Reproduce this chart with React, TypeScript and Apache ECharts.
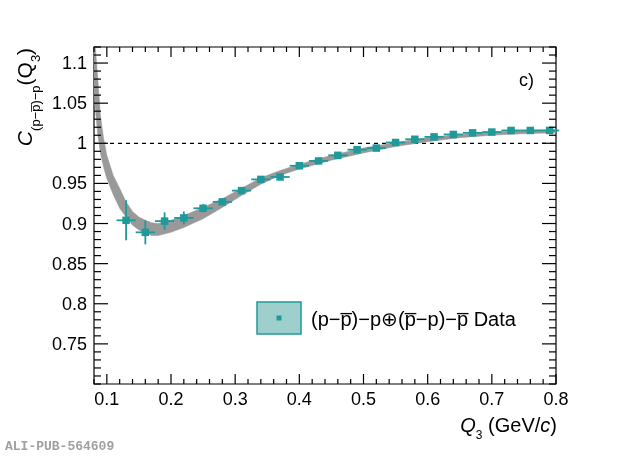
import { useEffect, useRef } from "react";
import * as echarts from "echarts";

// measured correlation function, one point per Q3 bin
const qBins = [0.13, 0.16, 0.19, 0.22, 0.25, 0.28, 0.31, 0.34, 0.37, 0.4, 0.43, 0.46, 0.49, 0.52, 0.55, 0.58, 0.61, 0.64, 0.67, 0.7, 0.73, 0.76, 0.79];
const corr = [0.904, 0.889, 0.903, 0.907, 0.919, 0.927, 0.941, 0.955, 0.958, 0.972, 0.978, 0.985, 0.992, 0.994, 1.001, 1.005, 1.008, 1.011, 1.013, 1.014, 1.016, 1.016, 1.016];
const statErr = [0.025, 0.015, 0.011, 0.008, 0.005, 0.004, 0.003, 0.003, 0.002, 0.002, 0.002, 0.002, 0.002, 0.002, 0.002, 0.002, 0.002, 0.002, 0.002, 0.002, 0.002, 0.002, 0.002];
const binHalfWidth = 0.015;

// grey band (model)
const bandQ = [0.08, 0.083, 0.086, 0.09, 0.095, 0.1, 0.11, 0.12, 0.13, 0.14, 0.15, 0.16, 0.17, 0.18, 0.2, 0.22, 0.25, 0.28, 0.31, 0.34, 0.37, 0.4, 0.45, 0.5, 0.55, 0.6, 0.65, 0.7, 0.75, 0.8];
const bandLow = [1.06, 1.035, 1.01, 0.988, 0.97, 0.956, 0.936, 0.919, 0.908, 0.898, 0.892, 0.888, 0.885, 0.885, 0.889, 0.895, 0.906, 0.92, 0.935, 0.949, 0.96, 0.968, 0.979, 0.988, 0.996, 1.002, 1.007, 1.01, 1.012, 1.013];
const bandHigh = [1.14, 1.11, 1.08, 1.035, 1.006, 0.985, 0.96, 0.944, 0.927, 0.915, 0.908, 0.904, 0.901, 0.9, 0.904, 0.91, 0.92, 0.931, 0.944, 0.957, 0.966, 0.974, 0.985, 0.994, 1.001, 1.007, 1.011, 1.014, 1.016, 1.017];

const refLine = [[0.08, 1], [0.8, 1]];

const xTicks = [0.1, 0.2, 0.3, 0.4, 0.5, 0.6, 0.7, 0.8];
const xTickLabels = ["0.1", "0.2", "0.3", "0.4", "0.5", "0.6", "0.7", "0.8"];
const yTicks = [0.75, 0.8, 0.85, 0.9, 0.95, 1, 1.05, 1.1];
const yTickLabels = ["0.75", "0.8", "0.85", "0.9", "0.95", "1", "1.05", "1.1"];

const X_MIN = 0.08;
const X_MAX = 0.8;
const Y_MIN = 0.7;
const Y_MAX = 1.12;
const X_MINOR = 0.02;
const Y_MINOR = 0.01;

const TEAL = "#1f9a9a";
const BAND = "#999999";
const FONT = "'Liberation Sans', Arial, Helvetica, sans-serif";

const App = () => {
  const chartRef = useRef<HTMLDivElement>(null);

  useEffect(() => {
    const chart = echarts.init(chartRef.current!, null, { renderer: "svg" });

    const option: any = {
      animation: false,
      grid: { left: 94, right: 64, top: 47, bottom: 72, show: true, borderColor: "#000", borderWidth: 1.2, backgroundColor: "transparent" },
      xAxis: { type: "value", min: X_MIN, max: X_MAX, axisLine: { show: false }, axisTick: { show: false }, axisLabel: { show: false }, splitLine: { show: false } },
      yAxis: { type: "value", min: Y_MIN, max: Y_MAX, axisLine: { show: false }, axisTick: { show: false }, axisLabel: { show: false }, splitLine: { show: false } },
      series: [
        {
          type: "line",
          z: 1,
          data: refLine,
          symbol: "none",
          silent: true,
          lineStyle: { color: "#000", width: 1.3, type: [4, 4] },
        },
        {
          type: "custom",
          z: 2,
          clip: true,
          silent: true,
          data: bandQ.map((q, i) => [q, bandLow[i], bandHigh[i]]),
          encode: { x: 0, y: [1, 2] },
          renderItem: (params: any, api: any) => {
            if (params.dataIndex !== 0) return { type: "group", children: [] };
            const pts: number[][] = [];
            for (let i = 0; i < bandQ.length; i++) pts.push(api.coord([bandQ[i], bandHigh[i]]));
            for (let i = bandQ.length - 1; i >= 0; i--) pts.push(api.coord([bandQ[i], bandLow[i]]));
            return { type: "polygon", shape: { points: pts }, style: { fill: BAND, stroke: BAND, lineWidth: 0.5 } };
          },
        },
        {
          type: "custom",
          z: 3,
          silent: true,
          data: qBins.map((q, i) => [q, corr[i], statErr[i]]),
          encode: { x: 0, y: 1 },
          renderItem: (_params: any, api: any) => {
            const x = api.value(0);
            const y = api.value(1);
            const e = api.value(2);
            const c = api.coord([x, y]);
            const l = api.coord([x - binHalfWidth, y]);
            const r = api.coord([x + binHalfWidth, y]);
            const t = api.coord([x, y + e]);
            const b = api.coord([x, y - e]);
            return {
              type: "group",
              children: [
                { type: "line", shape: { x1: l[0], y1: c[1], x2: r[0], y2: c[1] }, style: { stroke: TEAL, lineWidth: 1.8 } },
                { type: "line", shape: { x1: c[0], y1: t[1], x2: c[0], y2: b[1] }, style: { stroke: TEAL, lineWidth: 1.8 } },
                { type: "rect", shape: { x: c[0] - 3.75, y: c[1] - 3.75, width: 7.5, height: 7.5 }, style: { fill: TEAL } },
              ],
            };
          },
        },
        {
          // ROOT-style frame ticks and labels
          type: "custom",
          z: 4,
          silent: true,
          clip: false,
          data: [[X_MIN, Y_MIN]],
          renderItem: (params: any, api: any) => {
            const cs = params.coordSys;
            const left = cs.x;
            const right = cs.x + cs.width;
            const top = cs.y;
            const bottom = cs.y + cs.height;
            const kids: any[] = [];
            const line = (x1: number, y1: number, x2: number, y2: number) =>
              kids.push({ type: "line", shape: { x1, y1, x2, y2 }, style: { stroke: "#000", lineWidth: 1.2 } });
            const label = (text: string, x: number, y: number, align: string, vAlign: string) =>
              kids.push({
                type: "text",
                x,
                y,
                style: { text, fill: "#000", font: `18px ${FONT}`, align, verticalAlign: vAlign, textAlign: align, textVerticalAlign: vAlign },
              });
            const isMajor = (v: number, majors: number[]) => majors.some((m) => Math.abs(m - v) < 1e-6);

            for (let k = 0; ; k++) {
              const v = Math.round((X_MIN + k * X_MINOR) * 1000) / 1000;
              if (v > X_MAX + 1e-9) break;
              const px = api.coord([v, Y_MIN])[0];
              const len = isMajor(v, xTicks) ? 10 : 5;
              line(px, bottom, px, bottom - len);
              line(px, top, px, top + len);
            }
            for (let k = 0; ; k++) {
              const v = Math.round((Y_MIN + k * Y_MINOR) * 1000) / 1000;
              if (v > Y_MAX + 1e-9) break;
              const py = api.coord([X_MIN, v])[1];
              const len = isMajor(v, yTicks) ? 14 : 7;
              line(left, py, left + len, py);
              line(right, py, right - len, py);
            }
            xTicks.forEach((v, i) => label(xTickLabels[i], api.coord([v, Y_MIN])[0], bottom + 6, "center", "top"));
            yTicks.forEach((v, i) => label(yTickLabels[i], left - 7, api.coord([X_MIN, v])[1], "right", "middle"));
            return { type: "group", children: kids };
          },
        },
      ],
      graphic: [
        {
          type: "text",
          x: 557,
          y: 428,
          style: {
            text: "{i|Q}{s|3}{n| (GeV/}{i|c}{n|)}",
            align: "right",
            verticalAlign: "middle",
            textAlign: "right",
            textVerticalAlign: "middle",
            fill: "#000",
            rich: {
              i: { fontFamily: FONT, fontSize: 20, fontStyle: "italic", lineHeight: 26, verticalAlign: "top" },
              n: { fontFamily: FONT, fontSize: 20, lineHeight: 26, verticalAlign: "top" },
              s: { fontFamily: FONT, fontSize: 12, lineHeight: 14, verticalAlign: "bottom" },
            },
          },
        },
        {
          type: "text",
          x: 28,
          y: 97,
          rotation: Math.PI / 2,
          style: {
            text: "{c|C}{s|(p\u2212p\u0305)\u2212p}{n|(Q}{s|3}{n|)}",
            align: "center",
            verticalAlign: "middle",
            textAlign: "center",
            textVerticalAlign: "middle",
            fill: "#000",
            rich: {
              c: { fontFamily: FONT, fontSize: 21, fontStyle: "italic", lineHeight: 28, verticalAlign: "top" },
              n: { fontFamily: FONT, fontSize: 21, lineHeight: 28, verticalAlign: "top" },
              s: { fontFamily: FONT, fontSize: 13, lineHeight: 15, verticalAlign: "bottom" },
            },
          },
        },
        {
          type: "text",
          x: 519,
          y: 80,
          style: { text: "c)", font: `18px ${FONT}`, fill: "#000", align: "left", verticalAlign: "middle", textAlign: "left", textVerticalAlign: "middle" },
        },
        { type: "rect", shape: { x: 257, y: 302, width: 44, height: 32 }, style: { fill: "#9fcfcc", stroke: TEAL, lineWidth: 1.5 } },
        { type: "rect", shape: { x: 276.5, y: 315.5, width: 5, height: 5 }, style: { fill: TEAL } },
        {
          type: "text",
          x: 311,
          y: 319,
          style: {
            text: "(p\u2212p\u0305)\u2212p\u2295(p\u0305\u2212p)\u2212p\u0305 Data",
            font: `20px ${FONT}`,
            fill: "#000",
            align: "left",
            verticalAlign: "middle",
            textAlign: "left",
            textVerticalAlign: "middle",
          },
        },
        {
          type: "text",
          x: 5,
          y: 446,
          style: {
            text: "ALI-PUB-564609",
            font: `bold 13px 'Liberation Mono', 'DejaVu Sans Mono', monospace`,
            fill: "#a0a0a0",
            align: "left",
            verticalAlign: "middle",
            textAlign: "left",
            textVerticalAlign: "middle",
          },
        },
      ],
    };

    chart.setOption(option);
    return () => chart.dispose();
  }, []);

  return <div ref={chartRef} style={{ position: "fixed", left: 0, top: 0, width: 620, height: 456 }} />;
};

export default App;
